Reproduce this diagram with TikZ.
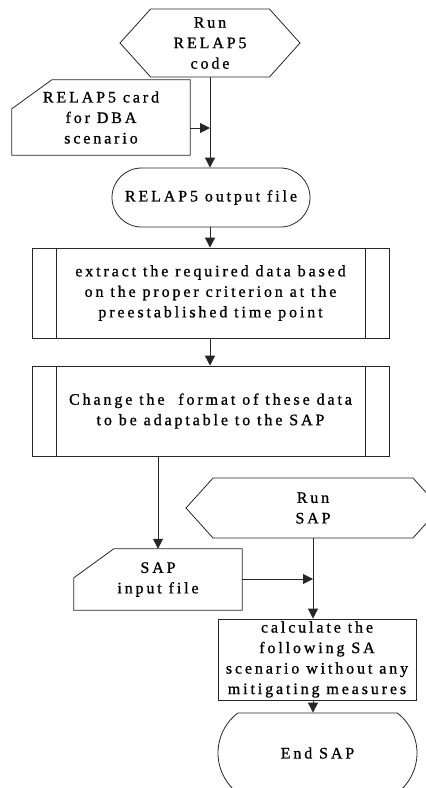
\documentclass[tikz,border=0pt]{standalone}
\usepackage{fontspec}
\setmainfont{Liberation Serif}[LetterSpace=18, FakeBold=1]
\usepackage{tikz}
\usetikzlibrary{positioning}
\usetikzlibrary{calc}
\usetikzlibrary{arrows.meta}
\usetikzlibrary{shapes.misc,shapes.symbols}

\begin{document}
\begin{tikzpicture}
    [%%%%%%%%%%%%%%%%%%%%%%%%%%%%%%
        x=1pt, y=-1pt,
        >={Triangle[length=10pt,width=10pt]},
        every node/.style={font=\fontsize{16}{20.5}\selectfont, align=center, inner sep=0pt},
        line/.style={draw=black!85, line width=0.8pt},
        hexa/.style={signal, signal to=west and east, signal pointer angle=96, line},
        card/.style={rectangle, append after command={\pgfextra{
            \draw[line] ([yshift=-29pt]\tikzlastnode.north west) -- ([xshift=40pt]\tikzlastnode.north west)
                -- (\tikzlastnode.north east) -- (\tikzlastnode.south east) -- (\tikzlastnode.south west) -- cycle;}}},
        term/.style={rounded rectangle, line},
        proc/.style={rectangle, line, path picture={
            \draw[line] ([xshift=24pt]path picture bounding box.north west) -- ([xshift=24pt]path picture bounding box.south west);
            \draw[line] ([xshift=-24pt]path picture bounding box.north east) -- ([xshift=-24pt]path picture bounding box.south east);}},
        box/.style={rectangle, line}
    ]%%%%%%%%%%%%%%%%%%%%%%%%%%%%%%
\clip (0,0) rectangle (426,788);

\node[hexa, minimum width=180pt, minimum height=68pt] (runrelap) at (210,43) {Run\\RELAP5\\code};
\node[card, minimum width=178pt, minimum height=75pt] (relapcard) at (101,117.5) {RELAP5 card\\for DBA\\scenario};
\node[term, minimum width=198pt, minimum height=59pt] (relapout) at (211,197.5) {RELAP5 output file};
\node[proc, minimum width=357pt, minimum height=90pt] (extract) at (210.5,293) {extract the required data based\\on the proper criterion at the\\preestablished time point};
\node[proc, minimum width=357pt, minimum height=90pt] (format) at (210.5,411) {Change the\ \ format of these data\\to be adaptable to the SAP};
\node[hexa, minimum width=254pt, minimum height=60pt] (runsap) at (313,508) {Run\\SAP};
\node[card, minimum width=168pt, minimum height=61pt] (sapcard) at (158,579.5) {SAP\\input file};
\node[box, minimum width=198pt, minimum height=81pt] (calc) at (317,659.5) {calculate the\\following SA\\scenario without any\\mitigating measures};
\node[term, rounded rectangle arc length=105, minimum width=199pt, minimum height=80pt] (endsap) at (317.5,753) {End SAP};

\coordinate (join1) at (runrelap.south |- 0,128);
\coordinate (join2) at (runsap.south |- 0,579);

\draw [->,line] (runrelap.south) -- (runrelap.south |- relapout.north);

\draw [->,line] (relapcard.east |- join1) -- (join1);

\draw [->,line] (relapout.south -| runrelap.south) -- (runrelap.south |- extract.north);

\draw [->,line] (extract.south -| runrelap.south) -- (runrelap.south |- format.north);

\draw [->,line] (format.south -| sapcard.north) -- (sapcard.north);

\draw [->,line] (runsap.south) -- (runsap.south |- calc.north);

\draw [->,line] (sapcard.east |- join2) -- (join2);

\draw [->,line] (calc.south -| runsap.south) -- (runsap.south |- endsap.north);

\end{tikzpicture}
\end{document}
